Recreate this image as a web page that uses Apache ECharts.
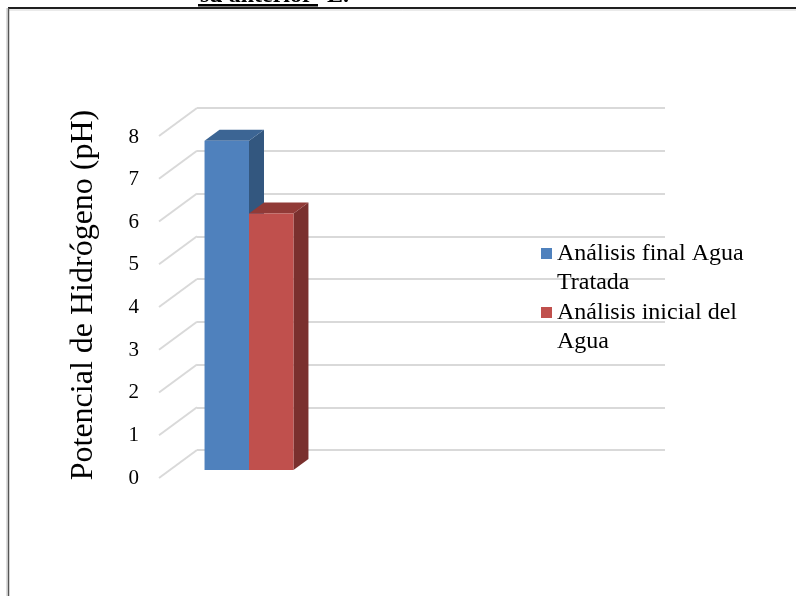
<!DOCTYPE html>
<html>
<head>
<meta charset="utf-8">
<script src="https://cdn.jsdelivr.net/npm/echarts@6/dist/echarts.min.js"></script>
<style>
  html, body { margin: 0; padding: 0; background: #fff; }
  #chart { width: 796px; height: 596px; }
</style>
</head>
<body>
<div id="chart"></div>
<script>
// pH measurements of the water
const categories = ['pH'];
const seriesNames = ['Análisis final Agua Tratada', 'Análisis inicial del Agua'];
const legendLabels = ['Análisis final Agua\nTratada', 'Análisis inicial del\nAgua'];
const finalValues = [7.7];
const initialValues = [6.0];
const yTicks = [0, 1, 2, 3, 4, 5, 6, 7, 8];
const yTitle = 'Potencial de Hidrógeno (pH)';
const headerText = 'su anterior';
const headerTail = 'E.';

const SERIF = '"Liberation Serif", "Times New Roman", serif';

// face colours: front, top, side
const palettes = [
  { front: '#4F81BD', top: '#3C6594', side: '#33577F' },
  { front: '#C0504D', top: '#913A37', side: '#7A302E' }
];

// depth offsets (px) from the back wall for the bar faces and the floor edge
const FRONT_FACE = [-26, 20];
const BACK_FACE = [-11, 9];
const FLOOR_EDGE = [-38, 28];

function barRenderer(slot) {
  return function (params, api) {
    const cat = api.value(0);
    const v = api.value(1);
    const top = api.coord([cat, v]);
    const base = api.coord([cat, 0]);
    const band = api.size([1, 0])[0];
    const w = band * 0.285;
    const x0 = top[0] - w + slot * w;
    const x1 = x0 + w;
    const ty = top[1], by = base[1];
    const p = palettes[slot];
    const F = FRONT_FACE, B = BACK_FACE;
    return {
      type: 'group',
      children: [
        {
          type: 'polygon',
          shape: { points: [[x1 + F[0], ty + F[1]], [x1 + B[0], ty + B[1]], [x1 + B[0], by + B[1]], [x1 + F[0], by + F[1]]] },
          style: { fill: p.side }
        },
        {
          type: 'polygon',
          shape: { points: [[x0 + F[0], ty + F[1]], [x1 + F[0], ty + F[1]], [x1 + B[0], ty + B[1]], [x0 + B[0], ty + B[1]]] },
          style: { fill: p.top }
        },
        {
          type: 'rect',
          shape: { x: x0 + F[0], y: ty + F[1], width: w, height: by - ty },
          style: { fill: p.front }
        }
      ]
    };
  };
}

function floorRenderer(params, api) {
  const y = api.coord([0, api.value(1)])[1];
  const x = params.coordSys.x;
  return {
    type: 'line',
    shape: { x1: x, y1: y, x2: x + FLOOR_EDGE[0], y2: y + FLOOR_EDGE[1] },
    style: { stroke: '#D9D9D9', lineWidth: 2 }
  };
}

const chart = echarts.init(document.getElementById('chart'), null, { renderer: 'canvas' });

chart.setOption({
  backgroundColor: '#ffffff',
  animation: false,
  grid: [
    { left: 197, right: 131, top: 108, bottom: 146 },
    { left: 159, width: 10, top: 137, bottom: 118 }
  ],
  xAxis: [
    { type: 'category', gridIndex: 0, data: categories, max: 2, show: false },
    { type: 'category', gridIndex: 1, data: categories, show: false }
  ],
  yAxis: [
    {
      type: 'value', gridIndex: 0, min: 0, max: 8, interval: 1,
      axisLine: { show: false }, axisTick: { show: false }, axisLabel: { show: false },
      splitLine: { lineStyle: { color: '#D9D9D9', width: 2 } }
    },
    {
      type: 'value', gridIndex: 1, min: 0, max: 8, interval: 1,
      axisLine: { show: false }, axisTick: { show: false }, splitLine: { show: false },
      axisLabel: { color: '#000', fontFamily: SERIF, fontSize: 21, margin: 20 }
    }
  ],
  legend: {
    orient: 'vertical',
    left: 541,
    top: 210,
    padding: 0,
    itemGap: -28,
    itemWidth: 11,
    itemHeight: 11,
    icon: 'rect',
    data: seriesNames,
    // a blank leading line keeps the marker level with the first text line
    formatter: function (name) { return '\n' + legendLabels[seriesNames.indexOf(name)]; },
    textStyle: { color: '#000', fontFamily: SERIF, fontSize: 24, lineHeight: 29 }
  },
  series: [
    {
      type: 'custom', name: 'floor', xAxisIndex: 0, yAxisIndex: 0, silent: true,
      renderItem: floorRenderer,
      data: yTicks.map(function (t) { return [0, t]; })
    },
    {
      type: 'custom', name: seriesNames[0], xAxisIndex: 0, yAxisIndex: 0,
      itemStyle: { color: palettes[0].front },
      renderItem: barRenderer(0),
      data: finalValues.map(function (v, i) { return [i, v]; })
    },
    {
      type: 'custom', name: seriesNames[1], xAxisIndex: 0, yAxisIndex: 0,
      itemStyle: { color: palettes[1].front },
      renderItem: barRenderer(1),
      data: initialValues.map(function (v, i) { return [i, v]; })
    }
  ],
  graphic: [
    {
      type: 'text', x: 84, y: 295, rotation: Math.PI / 2,
      style: { text: yTitle, fill: '#000', font: '32px ' + SERIF, align: 'center', verticalAlign: 'middle' }
    },
    // page frame
    { type: 'line', shape: { x1: 8, y1: 8, x2: 796, y2: 8 }, style: { stroke: '#1f1f1f', lineWidth: 2 } },
    { type: 'line', shape: { x1: 9, y1: 10, x2: 796, y2: 10 }, style: { stroke: '#d6d6d6', lineWidth: 1 } },
    { type: 'line', shape: { x1: 8.5, y1: 8, x2: 8.5, y2: 596 }, style: { stroke: '#555', lineWidth: 1.5 } },
    { type: 'line', shape: { x1: 7, y1: 8, x2: 7, y2: 596 }, style: { stroke: '#bbb', lineWidth: 1 } },
    // heading text above the frame, mostly cut off by the page edge
    {
      type: 'text', x: 200, y: 7.5,
      style: { text: headerText, fill: '#000', font: 'bold 24px ' + SERIF, align: 'left', verticalAlign: 'bottom' }
    },
    { type: 'rect', shape: { x: 198, y: 4, width: 120, height: 2.5 }, style: { fill: '#000' } },
    {
      type: 'text', x: 327, y: 7.5,
      style: { text: headerTail, fill: '#000', font: 'bold 24px ' + SERIF, align: 'left', verticalAlign: 'bottom' }
    }
  ]
});
</script>
</body>
</html>
